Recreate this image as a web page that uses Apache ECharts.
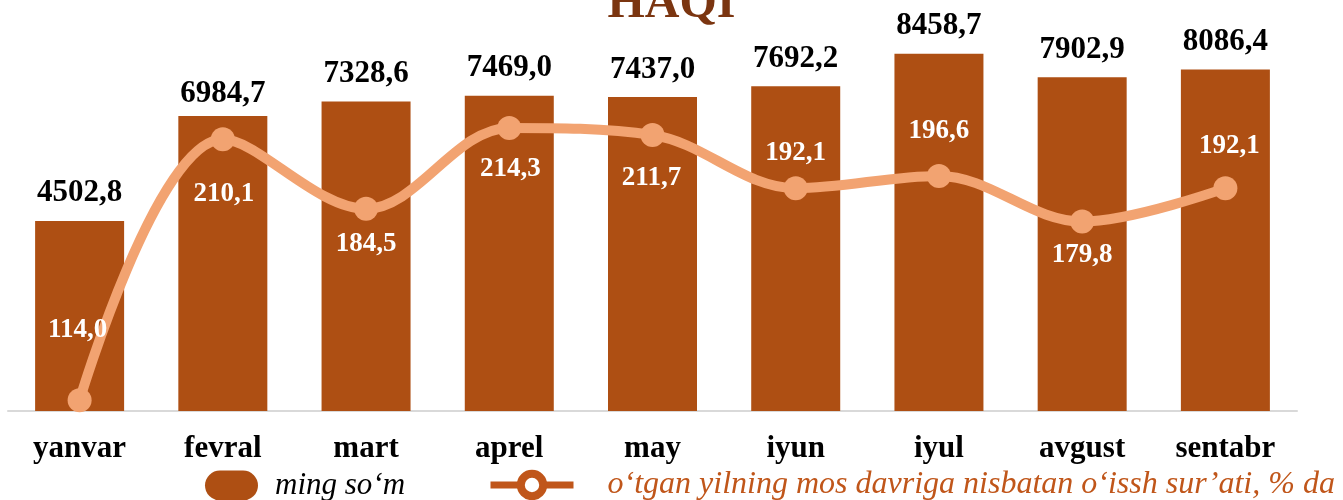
<!DOCTYPE html>
<html>
<head>
<meta charset="utf-8">
<script src="https://cdn.jsdelivr.net/npm/echarts@6/dist/echarts.min.js"></script>
<style>html,body{margin:0;padding:0;background:#fff;}#c{width:1343px;height:500px;}</style>
</head>
<body>
<div id="c"></div>
<script>
var categories = ['yanvar', 'fevral', 'mart', 'aprel', 'may', 'iyun', 'iyul', 'avgust', 'sentabr'];
var amountValues = [4502.8, 6984.7, 7328.6, 7469.0, 7437.0, 7692.2, 8458.7, 7902.9, 8086.4];
var growthValues = [114.0, 210.1, 184.5, 214.3, 211.7, 192.1, 196.6, 179.8, 192.1];
var titleText = 'HAQI';
var barName = 'ming so\u2018m';
var lineName = 'o\u2018tgan yilning mos davriga nisbatan o\u2018issh sur\u2019ati, % da';

// label offsets (presentation only)
var growthLabelOffsets = [[-2, -70], [1, 55], [0, 35], [1, 41], [-1, 43], [0, -35], [0, -45], [0, 33], [4, -42]];
var barLabelDistance = [12, 7, 12, 12, 12, 12, 12, 12, 12];

function fmt(v) { return v.toFixed(1).replace('.', ','); }

var SERIF = '"Liberation Serif", "Times New Roman", serif';
var BAR_COLOR = '#AE4F13';
var LINE_COLOR = '#F2A371';

var chart = echarts.init(document.getElementById('c'), null, { renderer: 'canvas' });

chart.setOption({
  animation: false,
  backgroundColor: '#ffffff',
  title: {
    text: titleText,
    left: 'center',
    top: -19,
    padding: 0,
    textStyle: { fontFamily: SERIF, fontSize: 48, fontWeight: 'bold', color: '#7B3510' }
  },
  legend: [
    {
      left: 205,
      top: 470,
      padding: 0,
      itemWidth: 53,
      itemHeight: 30,
      data: [{
        name: barName,
        icon: 'path://M15,0 H38 A15,15 0 0 1 38,30 H15 A15,15 0 0 1 15,0 Z',
        itemStyle: { color: BAR_COLOR }
      }],
      textStyle: { fontFamily: SERIF, fontSize: 31, fontStyle: 'italic', color: '#000', padding: [0, 0, 0, 12] }
    },
    {
      left: 487,
      top: 469,
      padding: 0,
      itemWidth: 83,
      itemHeight: 28,
      data: [{
        name: lineName,
        itemStyle: { color: '#ffffff', borderColor: '#C0561A', borderWidth: 8 },
        lineStyle: { color: '#C0561A', width: 7 }
      }],
      textStyle: { fontFamily: SERIF, fontSize: 32, fontStyle: 'italic', color: '#C0561A', padding: [0, 0, 0, 29] }
    }
  ],
  grid: { left: 8, right: 46, top: 31, bottom: 89, containLabel: false },
  xAxis: {
    type: 'category',
    data: categories,
    axisLine: { show: true, lineStyle: { color: '#D9D9D9', width: 2 } },
    axisTick: { show: false },
    axisLabel: { margin: 22, fontFamily: SERIF, fontSize: 31, fontWeight: 'bold', color: '#000' }
  },
  yAxis: [
    { type: 'value', min: 0, max: 9000, show: false, splitLine: { show: false } },
    { type: 'value', min: 110, max: 250, show: false, splitLine: { show: false } }
  ],
  series: [
    {
      name: barName,
      type: 'bar',
      yAxisIndex: 0,
      barWidth: 89,
      itemStyle: { color: BAR_COLOR },
      data: amountValues.map(function (v, i) {
        return { value: v, label: { distance: barLabelDistance[i] } };
      }),
      label: {
        show: true,
        position: 'top',
        fontFamily: SERIF,
        fontSize: 31,
        fontWeight: 'bold',
        color: '#000',
        formatter: function (p) { return fmt(p.value); }
      },
      z: 2
    },
    {
      name: lineName,
      type: 'line',
      yAxisIndex: 1,
      smooth: 0.35,
      symbol: 'circle',
      symbolSize: 24,
      lineStyle: { color: LINE_COLOR, width: 10 },
      itemStyle: { color: LINE_COLOR },
      data: growthValues.map(function (v, i) {
        return { value: v, label: { offset: growthLabelOffsets[i] } };
      }),
      label: {
        show: true,
        position: 'inside',
        fontFamily: SERIF,
        fontSize: 27,
        fontWeight: 'bold',
        color: '#ffffff',
        formatter: function (p) { return fmt(p.value); }
      },
      z: 5
    }
  ]
});
</script>
</body>
</html>
